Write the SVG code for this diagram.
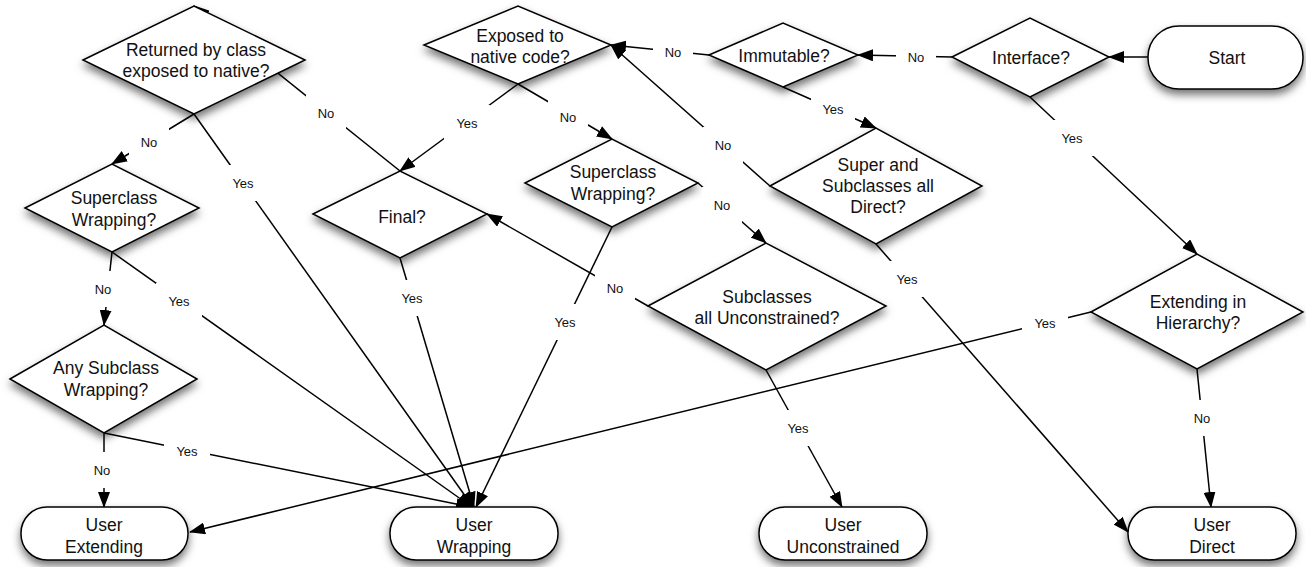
<svg xmlns="http://www.w3.org/2000/svg" width="1306" height="567" viewBox="0 0 1306 567">
<defs>
<filter id="sh" x="-20%" y="-20%" width="140%" height="150%">
<feDropShadow dx="0" dy="5" stdDeviation="4" flood-color="#000" flood-opacity="0.55"/>
</filter>
<marker id="arr" markerWidth="16" markerHeight="12" refX="15" refY="6" orient="auto" markerUnits="userSpaceOnUse">
<path d="M0,0 L16,6 L0,12 z" fill="#000"/>
</marker>
</defs>
<style>
.c{fill:none;stroke:#000;stroke-width:1.5;marker-end:url(#arr)}
.cn{fill:none;stroke:#000;stroke-width:1.5}
.d,.t{fill:#fff;stroke:#000;stroke-width:1.5;filter:url(#sh)}
.tx{font-family:"Liberation Sans",Arial,sans-serif;font-size:17.5px;fill:#111;text-anchor:middle}
.lb rect{fill:#fff;stroke:none}
.lb text{font-family:"Liberation Sans",Arial,sans-serif;font-size:13px;fill:#111;text-anchor:middle}
</style>
<rect width="1306" height="567" fill="#fff"/>
<g id="connectors">
<line class="c" x1="1148" y1="57" x2="1109" y2="57"/>
<line class="c" x1="952" y1="57" x2="858" y2="55"/>
<line class="c" x1="709" y1="55" x2="611" y2="45"/>
<line class="c" x1="1030" y1="97" x2="1197" y2="254"/>
<line class="c" x1="783" y1="87" x2="876" y2="128"/>
<line class="c" x1="770" y1="186" x2="611" y2="45"/>
<line class="c" x1="876" y1="244" x2="1128" y2="532"/>
<line class="c" x1="1197" y1="369" x2="1211" y2="507"/>
<line class="c" x1="1091" y1="312" x2="190" y2="532"/>
<line class="c" x1="518" y1="84" x2="400" y2="171"/>
<line class="c" x1="518" y1="84" x2="612" y2="139"/>
<line class="c" x1="194" y1="114" x2="112" y2="164"/>
<line class="c" x1="194" y1="114" x2="473" y2="507"/>
<line class="c" x1="400" y1="171" x2="194" y2="6"/>
<line class="c" x1="112" y1="252" x2="104" y2="325"/>
<line class="c" x1="112" y1="252" x2="472" y2="507"/>
<line class="c" x1="104" y1="433" x2="104" y2="507"/>
<line class="c" x1="104" y1="433" x2="471" y2="507"/>
<line class="c" x1="400" y1="258" x2="474" y2="507"/>
<line class="c" x1="612" y1="227" x2="476" y2="507"/>
<line class="c" x1="648" y1="306" x2="487" y2="214"/>
<line class="c" x1="766" y1="370" x2="842" y2="507"/>
<line class="c" x1="698" y1="183" x2="766" y2="243"/>
</g>
<g id="n-returned"><polygon class="d" points="83,60 194,6 305,60 194,114"/><text class="tx" x="196" y="56">Returned by class</text><text class="tx" x="196" y="77">exposed to native?</text></g>
<g id="n-exposed"><polygon class="d" points="424,45 518,6 611,45 518,84"/><text class="tx" x="520" y="42">Exposed to</text><text class="tx" x="520" y="63">native code?</text></g>
<g id="n-immutable"><polygon class="d" points="709,55 783,23 858,55 783,87"/><text class="tx" x="784" y="62">Immutable?</text></g>
<g id="n-interface"><polygon class="d" points="952,57 1030,18 1109,57 1030,97"/><text class="tx" x="1031" y="64">Interface?</text></g>
<g id="n-start"><rect class="t" x="1148" y="26" width="155" height="63" rx="31" ry="31"/><text class="tx" x="1227" y="64">Start</text></g>
<g id="n-superclass-left"><polygon class="d" points="25,208 112,164 199,208 112,252"/><text class="tx" x="114" y="204">Superclass</text><text class="tx" x="114" y="226">Wrapping?</text></g>
<g id="n-anysubclass"><polygon class="d" points="10,379 104,325 197,379 104,433"/><text class="tx" x="106" y="374">Any Subclass</text><text class="tx" x="106" y="396">Wrapping?</text></g>
<g id="n-final"><polygon class="d" points="313,214 400,171 487,214 400,258"/><text class="tx" x="402" y="223">Final?</text></g>
<g id="n-superclass-mid"><polygon class="d" points="525,183 612,139 698,183 612,227"/><text class="tx" x="613" y="178">Superclass</text><text class="tx" x="613" y="200">Wrapping?</text></g>
<g id="n-supersub"><polygon class="d" points="770,186 876,128 982,186 876,244"/><text class="tx" x="878" y="171">Super and</text><text class="tx" x="878" y="192">Subclasses all</text><text class="tx" x="878" y="213">Direct?</text></g>
<g id="n-subunconstr"><polygon class="d" points="648,306 766,243 886,306 766,370"/><text class="tx" x="767" y="303">Subclasses</text><text class="tx" x="767" y="324">all Unconstrained?</text></g>
<g id="n-extending"><polygon class="d" points="1091,312 1197,254 1303,312 1197,369"/><text class="tx" x="1198" y="308">Extending in</text><text class="tx" x="1198" y="329">Hierarchy?</text></g>
<g id="n-user-extending"><rect class="t" x="21" y="507" width="167" height="53" rx="26" ry="26"/><text class="tx" x="104" y="531">User</text><text class="tx" x="104" y="553">Extending</text></g>
<g id="n-user-wrapping"><rect class="t" x="390" y="507" width="168" height="53" rx="26" ry="26"/><text class="tx" x="474" y="531">User</text><text class="tx" x="474" y="553">Wrapping</text></g>
<g id="n-user-unconstrained"><rect class="t" x="759" y="507" width="168" height="53" rx="26" ry="26"/><text class="tx" x="843" y="531">User</text><text class="tx" x="843" y="553">Unconstrained</text></g>
<g id="n-user-direct"><rect class="t" x="1128" y="507" width="168" height="53" rx="26" ry="26"/><text class="tx" x="1212" y="531">User</text><text class="tx" x="1212" y="553">Direct</text></g>
<g id="connector-labels">
<g class="lb"><rect x="896" y="39" width="40" height="36"/><text x="916" y="62">No</text></g>
<g class="lb"><rect x="653" y="34" width="40" height="36"/><text x="673" y="57">No</text></g>
<g class="lb"><rect x="1049" y="120" width="46" height="36"/><text x="1072" y="143">Yes</text></g>
<g class="lb"><rect x="811" y="91" width="44" height="36"/><text x="833" y="114">Yes</text></g>
<g class="lb"><rect x="703" y="127" width="40" height="36"/><text x="723" y="150">No</text></g>
<g class="lb"><rect x="884" y="261" width="46" height="36"/><text x="907" y="284">Yes</text></g>
<g class="lb"><rect x="1182" y="400" width="40" height="36"/><text x="1202" y="423">No</text></g>
<g class="lb"><rect x="1022" y="305" width="46" height="36"/><text x="1045" y="328">Yes</text></g>
<g class="lb"><rect x="444" y="105" width="46" height="36"/><text x="467" y="128">Yes</text></g>
<g class="lb"><rect x="548" y="99" width="40" height="36"/><text x="568" y="122">No</text></g>
<g class="lb"><rect x="129" y="124" width="40" height="36"/><text x="149" y="147">No</text></g>
<g class="lb"><rect x="220" y="165" width="46" height="36"/><text x="243" y="188">Yes</text></g>
<g class="lb"><rect x="306" y="95" width="40" height="36"/><text x="326" y="118">No</text></g>
<g class="lb"><rect x="83" y="271" width="40" height="36"/><text x="103" y="294">No</text></g>
<g class="lb"><rect x="156" y="283" width="46" height="36"/><text x="179" y="306">Yes</text></g>
<g class="lb"><rect x="82" y="452" width="40" height="36"/><text x="102" y="475">No</text></g>
<g class="lb"><rect x="164" y="433" width="46" height="36"/><text x="187" y="456">Yes</text></g>
<g class="lb"><rect x="389" y="280" width="46" height="36"/><text x="412" y="303">Yes</text></g>
<g class="lb"><rect x="542" y="304" width="46" height="36"/><text x="565" y="327">Yes</text></g>
<g class="lb"><rect x="595" y="270" width="40" height="36"/><text x="615" y="293">No</text></g>
<g class="lb"><rect x="775" y="410" width="46" height="36"/><text x="798" y="433">Yes</text></g>
<g class="lb"><rect x="702" y="187" width="40" height="36"/><text x="722" y="210">No</text></g>
</g>
</svg>
